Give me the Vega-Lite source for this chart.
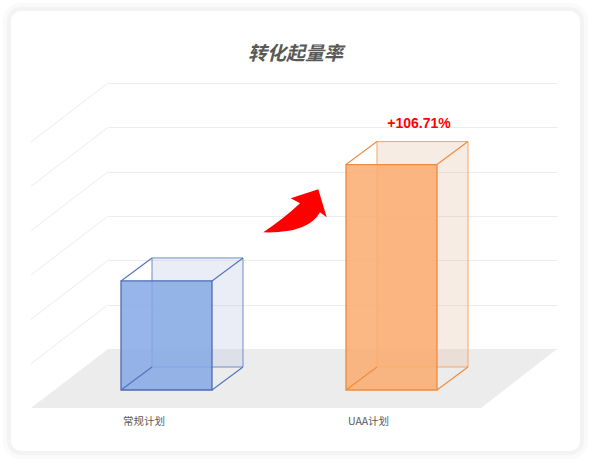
{
  "$schema": "https://vega.github.io/schema/vega-lite/v6.json",
  "autosize": "none",
  "width": 449,
  "height": 266,
  "padding": {"left": 108, "top": 83, "right": 35, "bottom": 114},
  "background": "#ffffff",
  "title": {
    "text": "转化起量率",
    "font": "Noto Sans CJK SC",
    "fontSize": 19,
    "fontWeight": "bold",
    "fontStyle": "italic",
    "color": "#595959",
    "anchor": "middle",
    "dx": -37,
    "offset": -67
  },
  "config": {"view": {"stroke": null}},
  "datasets": {
    "plans": [
      {"plan": "常规计划", "rate": 2.46, "lift": ""},
      {"plan": "UAA计划", "rate": 5.085, "lift": "+106.71%"}
    ],
    "levels": [
      {"level": 1}, {"level": 2}, {"level": 3},
      {"level": 4}, {"level": 5}, {"level": 6}
    ]
  },
  "resolve": {"scale": {"x": "independent"}},
  "layer": [
    {
      "data": {"values": [{}]},
      "mark": {
        "type": "point",
        "shape": "M-87,-344L462,-344A16,16 0 0 1 478,-328L478,92A16,16 0 0 1 462,108L-87,108A16,16 0 0 1 -103,92L-103,-328A16,16 0 0 1 -87,-344Z",
        "size": 4,
        "filled": false,
        "stroke": "#fafafa",
        "strokeWidth": 4,
        "opacity": 1
      },
      "encoding": {
        "x": {"datum": 0, "type": "quantitative", "scale": {"domain": [0, 1], "nice": false}, "axis": null},
        "y": {"datum": 0, "type": "quantitative"}
      }
    },
    {
      "data": {"values": [{}]},
      "mark": {
        "type": "point",
        "shape": "M-87,-340L462,-340A12,12 0 0 1 474,-328L474,92A12,12 0 0 1 462,104L-87,104A12,12 0 0 1 -99,92L-99,-328A12,12 0 0 1 -87,-340Z",
        "size": 4,
        "filled": false,
        "stroke": "#f3f3f3",
        "strokeWidth": 4,
        "opacity": 1
      },
      "encoding": {
        "x": {"datum": 0, "type": "quantitative", "scale": {"domain": [0, 1], "nice": false}, "axis": null},
        "y": {"datum": 0, "type": "quantitative"}
      }
    },
    {
      "data": {"values": [{}]},
      "mark": {
        "type": "point",
        "shape": "M0,0L449,0L373,59L-77,59Z",
        "size": 4,
        "filled": true,
        "fill": "#ececec",
        "opacity": 1,
        "strokeWidth": 0
      },
      "encoding": {
        "x": {"datum": 0, "type": "quantitative", "scale": {"domain": [0, 1], "nice": false}, "axis": null},
        "y": {"datum": 0, "type": "quantitative"}
      }
    },
    {
      "data": {"name": "levels"},
      "mark": {"type": "rule", "color": "#ececec", "strokeWidth": 1, "x2Offset": -77, "y2Offset": 59},
      "encoding": {
        "x": {"datum": 0, "type": "quantitative", "scale": {"domain": [0, 1], "nice": false}, "axis": null},
        "x2": {"datum": 0},
        "y": {"field": "level", "type": "quantitative"},
        "y2": {"field": "level"}
      }
    },
    {
      "data": {"name": "plans"},
      "encoding": {
        "x": {
          "field": "plan",
          "type": "nominal",
          "sort": null,
          "scale": {"paddingInner": 0.5956, "paddingOuter": 0.2956},
          "axis": {
            "title": null,
            "ticks": false,
            "tickSize": 0,
            "domain": false,
            "labelAngle": 0,
            "labelAlign": "left",
            "labelBaseline": "top",
            "labelOffset": -97,
            "labelPadding": 67,
            "labelFont": "Noto Sans CJK SC",
            "labelFontSize": 10.5,
            "labelColor": "#595959",
            "labelOverlap": false
          }
        },
        "y": {
          "field": "rate",
          "type": "quantitative",
          "scale": {"domain": [0, 6], "nice": false},
          "axis": {
            "title": null,
            "values": [0, 1, 2, 3, 4, 5, 6],
            "labels": false,
            "ticks": false,
            "domain": false,
            "grid": true,
            "gridColor": "#ececec",
            "gridWidth": 1
          }
        }
      },
      "layer": [
        {
          "mark": {
            "type": "bar",
            "xOffset": -22.5,
            "x2Offset": -22.5,
            "yOffset": 18,
            "y2Offset": 18,
            "fillOpacity": 0.35,
            "strokeWidth": 1
          },
          "encoding": {
            "fill": {"condition": {"test": "datum.plan === 'UAA计划'", "value": "#e8c9b0"}, "value": "#c2cce3"},
            "stroke": {"condition": {"test": "datum.plan === 'UAA计划'", "value": "#f5a56c"}, "value": "#6f8ecb"}
          }
        },
        {
          "mark": {
            "type": "bar",
            "xOffset": -53.5,
            "x2Offset": -53.5,
            "yOffset": 41,
            "y2Offset": 41,
            "fillOpacity": 0.85,
            "strokeWidth": 1.3
          },
          "encoding": {
            "fill": {"condition": {"test": "datum.plan === 'UAA计划'", "value": "#faab70"}, "value": "#85a8e4"},
            "stroke": {"condition": {"test": "datum.plan === 'UAA计划'", "value": "#f08a3c"}, "value": "#4a6cb3"}
          }
        },
        {
          "mark": {"type": "rule", "strokeWidth": 1.1, "xOffset": -53.5, "yOffset": 41, "x2Offset": -22.5, "y2Offset": 18},
          "encoding": {
            "x": {"field": "plan", "type": "nominal", "sort": null, "bandPosition": 0},
            "x2": {"field": "plan", "bandPosition": 0},
            "y2": {"field": "rate"},
            "color": {"condition": {"test": "datum.plan === 'UAA计划'", "value": "#f08a3c"}, "value": "#5274bd"}
          }
        },
        {
          "mark": {"type": "rule", "strokeWidth": 1.1, "xOffset": -53.5, "yOffset": 41, "x2Offset": -22.5, "y2Offset": 18},
          "encoding": {
            "x": {"field": "plan", "type": "nominal", "sort": null, "bandPosition": 1},
            "x2": {"field": "plan", "bandPosition": 1},
            "y2": {"field": "rate"},
            "color": {"condition": {"test": "datum.plan === 'UAA计划'", "value": "#f08a3c"}, "value": "#5274bd"}
          }
        },
        {
          "mark": {"type": "rule", "strokeWidth": 1.1, "xOffset": -53.5, "yOffset": 41, "x2Offset": -22.5, "y2Offset": 18},
          "encoding": {
            "x": {"field": "plan", "type": "nominal", "sort": null, "bandPosition": 0},
            "x2": {"field": "plan", "bandPosition": 0},
            "y": {"datum": 0},
            "y2": {"datum": 0},
            "color": {"condition": {"test": "datum.plan === 'UAA计划'", "value": "#f08a3c"}, "value": "#5274bd"}
          }
        },
        {
          "mark": {"type": "rule", "strokeWidth": 1.1, "xOffset": -53.5, "yOffset": 41, "x2Offset": -22.5, "y2Offset": 18},
          "encoding": {
            "x": {"field": "plan", "type": "nominal", "sort": null, "bandPosition": 1},
            "x2": {"field": "plan", "bandPosition": 1},
            "y": {"datum": 0},
            "y2": {"datum": 0},
            "color": {"condition": {"test": "datum.plan === 'UAA计划'", "value": "#f08a3c"}, "value": "#5274bd"}
          }
        },
        {
          "mark": {
            "type": "text",
            "font": "Liberation Sans",
            "fontSize": 14,
            "fontWeight": "bold",
            "color": "#ff0000",
            "baseline": "middle",
            "xOffset": -26
          },
          "encoding": {"text": {"field": "lift"}}
        }
      ]
    },
    {
      "data": {"values": [{}]},
      "mark": {
        "type": "point",
        "shape": "M-69.2,16.3Q-48.2,2.2 -32.5,-12.7L-41.8,-17.7L-14.2,-26.7L-5.8,1.3L-12.5,-3.7Q-24.2,17.7 -69.2,16.3Z",
        "size": 4,
        "filled": true,
        "fill": "#ff0000",
        "opacity": 1,
        "strokeWidth": 0
      },
      "encoding": {
        "x": {"datum": 0.5, "type": "quantitative", "scale": {"domain": [0, 1], "nice": false}, "axis": null},
        "y": {"datum": 3, "type": "quantitative"}
      }
    }
  ]
}
